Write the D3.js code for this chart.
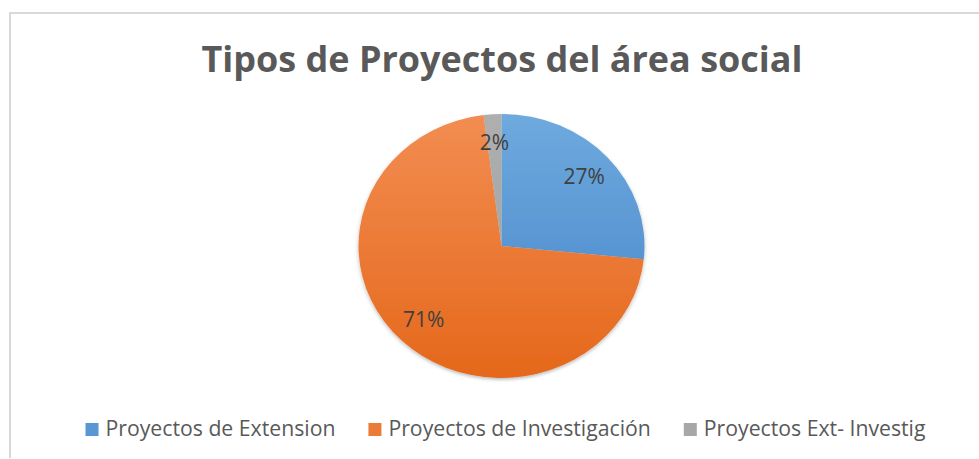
<!DOCTYPE html>
<html>
<head>
<meta charset="utf-8">
<script src="https://cdn.jsdelivr.net/npm/d3@7"></script>
<style>
  html, body { margin: 0; padding: 0; background: #fff; }
  svg { display: block; font-family: "Open Sans", sans-serif; }
</style>
</head>
<body>
<svg id="chart" width="979" height="459"></svg>
<script>
// datos (porcentajes)
var categorias = ["Proyectos de Extension", "Proyectos de Investigación", "Proyectos Ext- Investig"];
var valores = [26.6, 71.4, 2.0];
var coloresArriba = ["#6eaade", "#f28d52", "#afafaf"];
var coloresAbajo = ["#4483c8", "#e5681b", "#9e9e9e"];
var titulo = "Tipos de Proyectos del área social";

var svg = d3.select("#chart");
var W = 979, H = 459;

// marco del area del grafico
svg.append("line").attr("x1", 9).attr("x2", W).attr("y1", 13).attr("y2", 13)
    .attr("stroke", "#d9d9d9").attr("stroke-width", 2);
svg.append("line").attr("x1", 10).attr("x2", 10).attr("y1", 12).attr("y2", H - 1)
    .attr("stroke", "#d9d9d9").attr("stroke-width", 2);

// titulo, ajustado al ancho del original
var t = svg.append("text")
    .attr("x", 502).attr("y", 72)
    .attr("text-anchor", "middle")
    .attr("fill", "#595959")
    .attr("font-weight", 700)
    .attr("font-size", 33)
    .text(titulo);
var tw = t.node().getComputedTextLength();
t.attr("font-size", 33 * 601 / tw);

var cx = 501.5, cy = 246, R = 143, ky = 132 / 143;

var defs = svg.append("defs");
var sombra = defs.append("filter").attr("id", "sombra")
    .attr("x", "-10%").attr("y", "-10%").attr("width", "120%").attr("height", "125%");
sombra.append("feDropShadow").attr("dx", 0).attr("dy", 2).attr("stdDeviation", 2)
    .attr("flood-color", "#000").attr("flood-opacity", 0.25);

categorias.forEach(function(c, i) {
    var g = defs.append("linearGradient").attr("id", "grad" + i)
        .attr("gradientUnits", "userSpaceOnUse")
        .attr("x1", 0).attr("x2", 0).attr("y1", -R).attr("y2", R);
    g.append("stop").attr("offset", "0%").attr("stop-color", coloresArriba[i]);
    g.append("stop").attr("offset", "100%").attr("stop-color", coloresAbajo[i]);
});

var pie = d3.pie().sort(null).value(function(d) { return d; });
var arcos = pie(valores);
var arc = d3.arc().innerRadius(0).outerRadius(R);
var arcEtiqueta = d3.arc().innerRadius(R * 0.78).outerRadius(R * 0.78);

var gPie = svg.append("g")
    .attr("transform", "translate(" + cx + "," + cy + ") scale(1," + ky + ")");

gPie.append("g").attr("filter", "url(#sombra)")
    .selectAll("path")
    .data(arcos)
    .enter().append("path")
    .attr("d", arc)
    .attr("fill", function(d, i) { return "url(#grad" + i + ")"; });

var total = d3.sum(valores);
svg.append("g").selectAll("text")
    .data(arcos)
    .enter().append("text")
    .attr("x", function(d) { return cx + arcEtiqueta.centroid(d)[0]; })
    .attr("y", function(d) { return cy + arcEtiqueta.centroid(d)[1] * ky + 7; })
    .attr("text-anchor", "middle")
    .attr("font-size", 21)
    .attr("fill", "#404040")
    .text(function(d) { return Math.round(d.data / total * 100) + "%"; });

// leyenda
var fsLeyenda = 21;
var leyenda = svg.append("g");
var items = leyenda.selectAll("g").data(categorias).enter().append("g");
items.append("rect")
    .attr("width", 13).attr("height", 13).attr("y", -13)
    .attr("fill", function(d, i) { return d3.interpolateRgb(coloresArriba[i], coloresAbajo[i])(0.5); });
var textos = items.append("text")
    .attr("x", 20)
    .attr("font-size", fsLeyenda)
    .attr("fill", "#595959")
    .text(function(d) { return d; });
// ajustar el tamaño para que el primer texto mida como en el original
var w0 = textos.node().getComputedTextLength();
fsLeyenda = fsLeyenda * 230 / w0;
textos.attr("font-size", fsLeyenda);

var x = 0, posiciones = [], sep = 33;
items.each(function() {
    var w = d3.select(this).select("text").node().getComputedTextLength();
    posiciones.push(x);
    x += 20 + w + sep;
});
var anchoTotal = x - sep;
var x0 = 505.5 - anchoTotal / 2;
items.attr("transform", function(d, i) { return "translate(" + (x0 + posiciones[i]) + ",436)"; });
</script>
</body>
</html>
